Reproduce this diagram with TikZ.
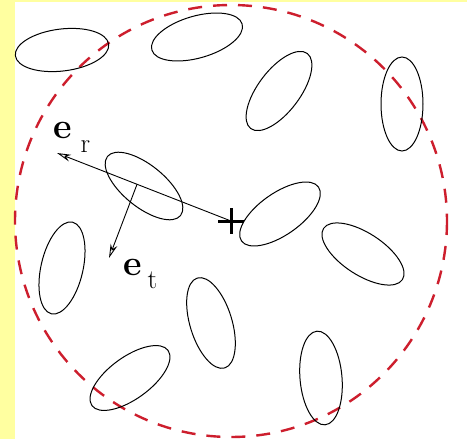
\documentclass[tikz,border=0pt]{standalone}
\usepackage{tikz}
\usetikzlibrary{arrows.meta}
\definecolor{paleyellow}{RGB}{255,255,160}
\definecolor{ringred}{RGB}{205,30,45}

\begin{document}
\begin{tikzpicture}[x=1pt, y=-1pt,
    grain/.style={draw=black, line width=1pt},
    ring/.style={draw=ringred, line width=2.4pt, dash pattern=on 14pt off 11pt},
    vec/.style={-{Stealth[open, length=14pt, width=7pt]}, line width=0.9pt},
    plusmark/.style={line width=3pt},
    vlabel/.style={anchor=base west, inner sep=0pt, font=\fontsize{36}{40}\selectfont\bfseries}
]
    \fill[paleyellow] (0,0) rectangle (467,439);
    \fill[white] (15,2) rectangle (467,439);
    \useasboundingbox (0,0) rectangle (467,439);

    \coordinate (centre) at (231,221);
    \draw[ring] (centre) circle[radius=216];

    \foreach \cx/\cy/\ang in {62/50/7, 197/37/16, 279/91/53, 402/104/90,
                              144/186/-39, 280/214/35, 363/254/-33, 62/268/77,
                              211/323/107, 130/378/36, 321/378/95}
        \draw[grain, rotate around={\ang:(\cx,\cy)}] (\cx,\cy) ellipse[x radius=47, y radius=21];

    \draw[plusmark] (centre) ++(-13,0) -- ++(26,0) (centre) ++(0,-13) -- ++(0,26);

    \coordinate (tipR) at (57,153);
    \coordinate (tipT) at (109,258);
    \draw[vec] (centre) -- coordinate[pos=0.54] (foot) (tipR);
    \draw[vec] (foot) -- (tipT);

    \node[vlabel] (er) at (53,138) {e\hspace{9pt}\mdseries\fontsize{27}{30}\selectfont\raisebox{-14pt}{r}};
    \node[vlabel] (et) at (123,275) {e\hspace{6pt}\mdseries\fontsize{27}{30}\selectfont\raisebox{-13pt}{t}};
\end{tikzpicture}
\end{document}
